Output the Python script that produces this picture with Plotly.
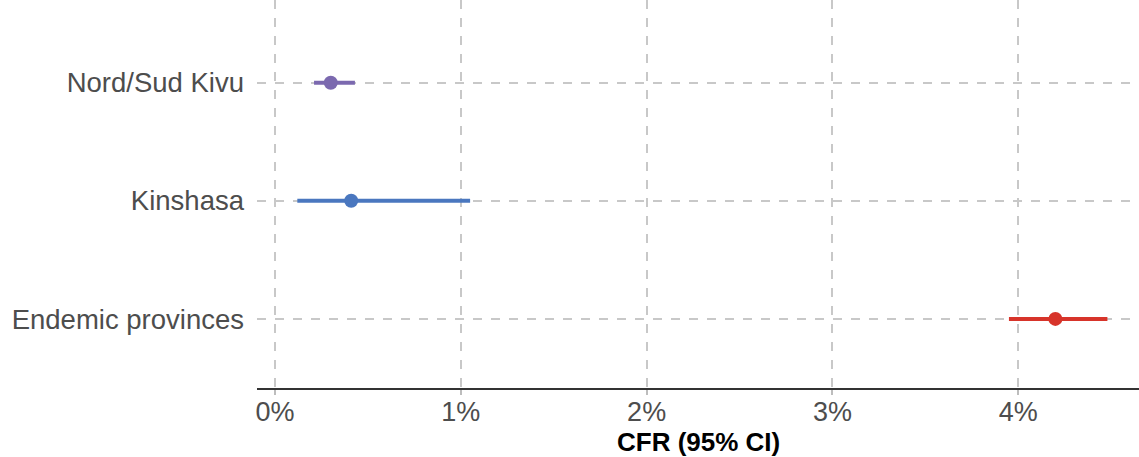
import plotly.graph_objects as go

regions = ["Endemic provinces", "Kinshasa", "Nord/Sud Kivu"]
cfr = [4.20, 0.41, 0.30]
ci_low = [3.95, 0.12, 0.21]
ci_high = [4.48, 1.05, 0.43]
colors = ["#D7342A", "#4A77BF", "#7B69AF"]
x_ticks = [0, 1, 2, 3, 4]
x_tick_labels = ["0%", "1%", "2%", "3%", "4%"]

fig = go.Figure()
for i, r in enumerate(regions):
    fig.add_trace(go.Scatter(
        x=[cfr[i]], y=[i], mode="markers",
        marker=dict(color=colors[i], size=14),
        error_x=dict(type="data", symmetric=False,
                     array=[ci_high[i] - cfr[i]],
                     arrayminus=[cfr[i] - ci_low[i]],
                     color=colors[i], thickness=4, width=0),
        showlegend=False, name=r,
    ))

fig.update_layout(
    width=1139, height=457,
    margin=dict(l=257, r=0, t=0, b=69),
    plot_bgcolor="white", paper_bgcolor="white",
    font=dict(family="Liberation Sans, Arial, sans-serif", color="#4D4D4D"),
    annotations=[dict(
        text="<b>CFR (95% CI)</b>", xref="paper", yref="paper",
        x=0.5, y=-54 / 388, xanchor="center", yanchor="middle",
        showarrow=False, font=dict(size=26, color="#000000"),
    )],
)
fig.update_xaxes(
    range=[-0.097, 4.65],
    tickvals=x_ticks, ticktext=x_tick_labels,
    tickfont=dict(size=27, color="#4D4D4D"),
    showgrid=True, gridcolor="#C8C8C8", griddash="dash", gridwidth=1.5,
    showline=True, linecolor="#333333", linewidth=2,
    ticks="outside", ticklen=5, tickcolor="#BDBDBD", tickwidth=1.5,
    zeroline=False, ticklabelstandoff=-6,
)
fig.update_yaxes(
    range=[-0.585, 2.70],
    tickvals=list(range(len(regions))), ticktext=regions,
    tickfont=dict(size=27.5, color="#4D4D4D"),
    showgrid=True, gridcolor="#C8C8C8", griddash="dash", gridwidth=1.5,
    showline=False, zeroline=False, ticks="", ticklabelstandoff=12,
)
fig.write_html("out.html", config={"displayModeBar": False},
               post_script="document.body.style.margin='0px';")
